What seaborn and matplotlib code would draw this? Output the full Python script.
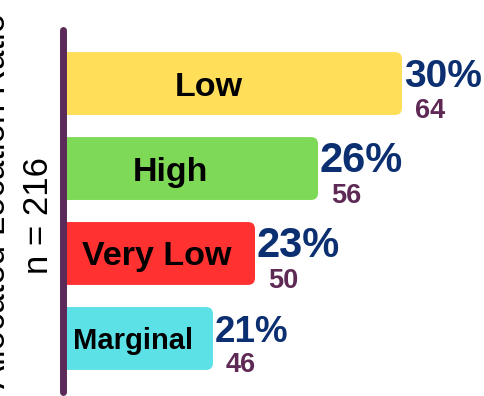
import matplotlib
matplotlib.use("Agg")
import matplotlib.pyplot as plt
from matplotlib.patches import FancyBboxPatch
import seaborn as sns
import pandas as pd

# Data
categories = ["Low", "High", "Very Low", "Marginal"]
counts = [64, 56, 50, 46]
bar_colors = ["#FFDE59", "#7ED957", "#FF3131", "#5CE1E6"]
label_sizes = [24.5, 24.5, 24.5, 21]
pct_sizes = [28, 30, 30, 26.5]
label_frac = [0.43, 0.42, 0.49, 0.47]

total = sum(counts)
pcts = [round(100 * c / total) for c in counts]

sns.set_theme(style="white")
plt.rcParams["font.family"] = ["Liberation Sans", "DejaVu Sans"]

W, H, DPI = 484, 396, 100
fig = plt.figure(figsize=(W / DPI, H / DPI), dpi=DPI)
ax = fig.add_axes([63 / W, 4 / H, (W - 63) / W, (392 - 30) / H])

df = pd.DataFrame({"category": categories, "count": counts})
sns.barplot(data=df, x="count", y="category", hue="category",
            palette=bar_colors, legend=False, width=0.74, orient="h",
            ax=ax, saturation=1)

# Count axis starts well above zero so the bar ends spread out
px_per_count = 10.5
x0 = 64 - (402 - 63) / px_per_count
x1 = x0 + (W - 63) / px_per_count
ax.set_xlim(x0, x1)
ax.set_ylim(3.63, -0.63)

# Swap rectangles for rounded ones
fig.canvas.draw()
px_per_x = ax.transData.transform((1, 0))[0] - ax.transData.transform((0, 0))[0]
px_per_y = abs(ax.transData.transform((0, 1))[1] - ax.transData.transform((0, 0))[1])
radius_px = 7
for p in list(ax.patches):
    x, y = p.get_x(), p.get_y()
    w, h = p.get_width(), p.get_height()
    fc = p.get_facecolor()
    p.remove()
    fb = FancyBboxPatch((x, y), w, h,
                        boxstyle=f"round,pad=0,rounding_size={radius_px / px_per_x}",
                        mutation_aspect=px_per_x / px_per_y,
                        facecolor=fc, edgecolor="none", zorder=2)
    ax.add_patch(fb)

for i, (cat, c, p) in enumerate(zip(categories, counts, pcts)):
    lx = x0 + label_frac[i] * (c - x0)
    ax.text(lx, i, cat, ha="center", va="center_baseline",
            fontsize=label_sizes[i], fontweight="bold", color="black", zorder=3)
    ax.annotate(f"{p}%", xy=(c, i), xytext=(1.2, -2.5), textcoords="offset points",
                ha="left", va="baseline", fontsize=pct_sizes[i],
                fontweight="bold", color="#0B2F70", zorder=3)
    ax.annotate(f"{c}", xy=(c, i), xytext=(9.4, -24.5), textcoords="offset points",
                ha="left", va="baseline", fontsize=19.5,
                fontweight="bold", color="#5E2A55", zorder=3)

# Axis styling: only a thick left rule
for side in ["top", "right", "bottom"]:
    ax.spines[side].set_visible(False)
ax.spines["left"].set_color("#5B2A58")
ax.spines["left"].set_linewidth(5)
ax.spines["left"].set_capstyle("round")
ax.spines["left"].set_zorder(5)
ax.set_xticks([])
ax.set_yticks([])
ax.set_xlabel("")
ax.set_ylabel("")
ax.set_facecolor("white")

fig.text(38 / W, 1 - 216 / H, f"n = {total}", rotation=90, ha="center",
         va="center", fontsize=25, color="black")
fig.text(-4 / W, 1 - 200 / H, "Allocated Location Ratio", rotation=90,
         ha="center", va="center", fontsize=25, color="black")

fig.savefig("out.png", dpi=DPI, facecolor="white")
